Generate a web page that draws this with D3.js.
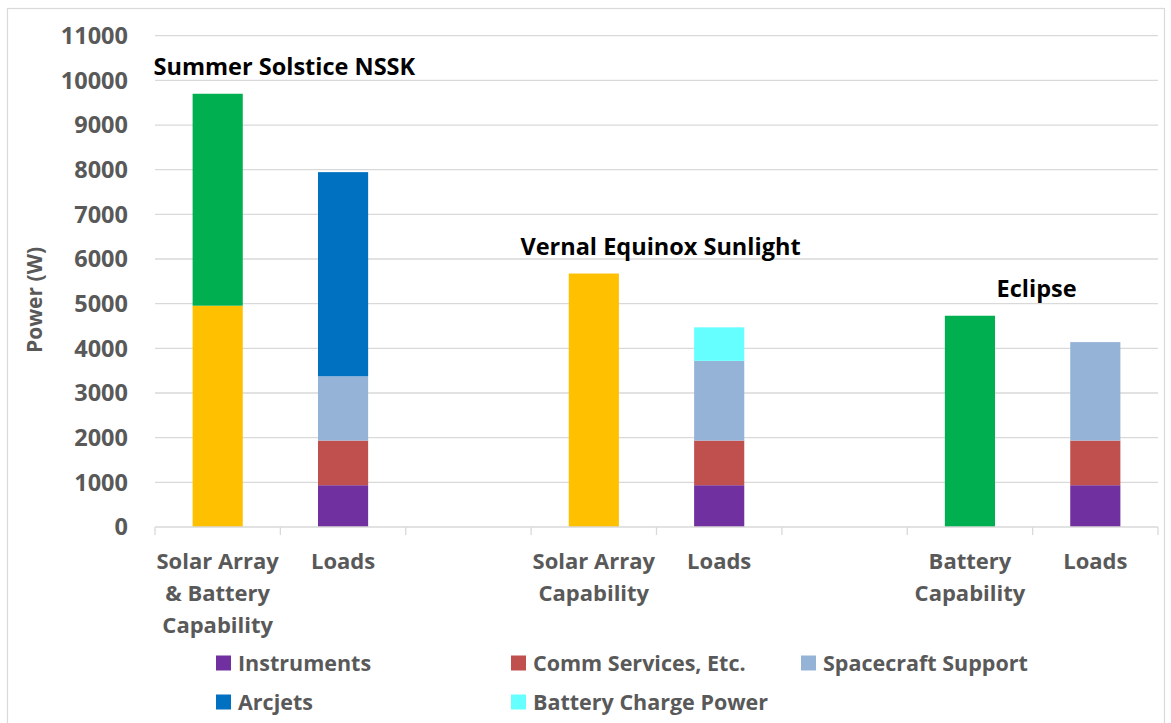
<!DOCTYPE html>
<html>
<head>
<meta charset="utf-8">
<script src="https://cdn.jsdelivr.net/npm/d3@7/dist/d3.min.js"></script>
<style>
  html, body { margin: 0; padding: 0; background: #fff; }
  svg { display: block; }
  text { font-family: "Open Sans", Lato, sans-serif; font-weight: 700; }
</style>
</head>
<body>
<svg id="chart" width="1171" height="723"></svg>
<script>
// Category slots along the x axis (empty entries are spacer slots between scenarios)
const categories = [
  ["Solar Array", "& Battery", "Capability"],
  ["Loads"],
  [],
  ["Solar Array", "Capability"],
  ["Loads"],
  [],
  ["Battery", "Capability"],
  ["Loads"]
];

// Power per category slot (W)
const solarArray    = [4955, 0, 0, 5675, 0, 0, 0, 0];
const batteryCap    = [4745, 0, 0, 0, 0, 0, 4730, 0];
const instruments   = [0, 935, 0, 0, 935, 0, 0, 935];
const commServices  = [0, 1000, 0, 0, 1000, 0, 0, 1000];
const scSupport     = [0, 1440, 0, 0, 1785, 0, 0, 2205];
const arcjets       = [0, 4570, 0, 0, 0, 0, 0, 0];
const batteryCharge = [0, 0, 0, 0, 750, 0, 0, 0];

// Scenario titles, centred over each pair of bars
const scenarios = [
  { name: "Summer Solstice NSSK", slots: [0, 1] },
  { name: "Vernal Equinox Sunlight", slots: [3, 4] },
  { name: "Eclipse", slots: [6, 7] }
];

const yTicks = [0, 1000, 2000, 3000, 4000, 5000, 6000, 7000, 8000, 9000, 10000, 11000];

const series = [
  { key: "solar",       label: "Solar Array",           values: solarArray,    color: "#FFC000", legend: false },
  { key: "battery",     label: "Battery",               values: batteryCap,    color: "#00B050", legend: false },
  { key: "instruments", label: "Instruments",           values: instruments,   color: "#7030A0", legend: true },
  { key: "comm",        label: "Comm Services, Etc.",   values: commServices,  color: "#C0504D", legend: true },
  { key: "support",     label: "Spacecraft Support",    values: scSupport,     color: "#95B3D7", legend: true },
  { key: "arcjets",     label: "Arcjets",               values: arcjets,       color: "#0070C0", legend: true },
  { key: "charge",      label: "Battery Charge Power",  values: batteryCharge, color: "#66FFFF", legend: true }
];

const svg = d3.select("#chart");
const W = 1171, H = 723;
const plot = { left: 155, right: 1158, top: 35.7, bottom: 527 };

// Outer chart frame
svg.append("rect")
  .attr("x", 7.5).attr("y", 8.5)
  .attr("width", W - 14).attr("height", H)
  .attr("fill", "#fff").attr("stroke", "#d9d9d9").attr("stroke-width", 1.2);

const idx = d3.range(categories.length);
const x = d3.scaleBand().domain(idx).range([plot.left, plot.right])
  .paddingInner(0.6).paddingOuter(0.3);
const y = d3.scaleLinear().domain([0, 11000]).range([plot.bottom, plot.top]);

// Gridlines
svg.append("g").selectAll("line").data(yTicks.slice(1)).join("line")
  .attr("x1", plot.left).attr("x2", plot.right)
  .attr("y1", d => y(d)).attr("y2", d => y(d))
  .attr("stroke", "#d9d9d9").attr("stroke-width", 1.3);

// Y axis tick labels
svg.append("g").selectAll("text").data(yTicks).join("text")
  .attr("x", 128).attr("y", d => y(d))
  .attr("dy", "0.36em")
  .attr("text-anchor", "end")
  .attr("fill", "#595959")
  .attr("font-size", 23.5)
  .text(d => d);

// Y axis title
svg.append("text")
  .attr("transform", `translate(42,300) rotate(-90)`)
  .attr("text-anchor", "middle")
  .attr("fill", "#595959")
  .attr("font-size", 21)
  .text("Power (W)");

// Stacked bars
const table = idx.map(i => {
  const row = { i };
  series.forEach(s => { row[s.key] = s.values[i]; });
  return row;
});
const stack = d3.stack().keys(series.map(s => s.key))(table);

svg.append("g").selectAll("g").data(stack).join("g")
  .attr("fill", (d, k) => series[k].color)
  .selectAll("rect").data(d => d.filter(p => p[1] > p[0])).join("rect")
  .attr("x", d => x(d.data.i))
  .attr("width", x.bandwidth())
  .attr("y", d => y(d[1]))
  .attr("height", d => y(d[0]) - y(d[1]));

// X axis line and boundary ticks
const step = x.step();
svg.append("line")
  .attr("x1", plot.left).attr("x2", plot.right)
  .attr("y1", plot.bottom).attr("y2", plot.bottom)
  .attr("stroke", "#d9d9d9").attr("stroke-width", 1.3);
svg.append("g").selectAll("line").data(d3.range(categories.length + 1)).join("line")
  .attr("x1", d => plot.left + d * step).attr("x2", d => plot.left + d * step)
  .attr("y1", plot.bottom).attr("y2", plot.bottom + 8)
  .attr("stroke", "#d9d9d9").attr("stroke-width", 1.3);

// Category labels
const catG = svg.append("g").selectAll("text").data(idx).join("text")
  .attr("text-anchor", "middle")
  .attr("fill", "#595959")
  .attr("font-size", 22);
catG.selectAll("tspan").data(i => categories[i].map(line => ({ i, line }))).join("tspan")
  .attr("x", d => x(d.i) + x.bandwidth() / 2)
  .attr("y", (d, j) => 569 + j * 32)
  .text(d => d.line);

// Scenario titles above each pair
svg.append("g").selectAll("text").data(scenarios).join("text")
  .attr("x", d => (x(d.slots[0]) + x(d.slots[1]) + x.bandwidth()) / 2 + 4)
  .attr("y", d => {
    const tops = d.slots.map(i => d3.sum(series, s => s.values[i]));
    return y(d3.max(tops)) - 19;
  })
  .attr("text-anchor", "middle")
  .attr("fill", "#000")
  .attr("font-size", 23.5)
  .text(d => d.name);

// Legend
const legendItems = series.filter(s => s.legend);
const legendCols = [216, 511, 801];
const legendRows = [663, 702];
const lg = svg.append("g").selectAll("g").data(legendItems).join("g")
  .attr("transform", (d, k) => `translate(${legendCols[k % 3]},${legendRows[Math.floor(k / 3)]})`);
lg.append("rect")
  .attr("x", 0).attr("y", -7.5).attr("width", 15).attr("height", 15)
  .attr("fill", d => d.color);
lg.append("text")
  .attr("x", 22).attr("y", 0).attr("dy", "0.36em")
  .attr("fill", "#595959")
  .attr("font-size", 21.5)
  .text(d => d.label);
</script>
</body>
</html>
